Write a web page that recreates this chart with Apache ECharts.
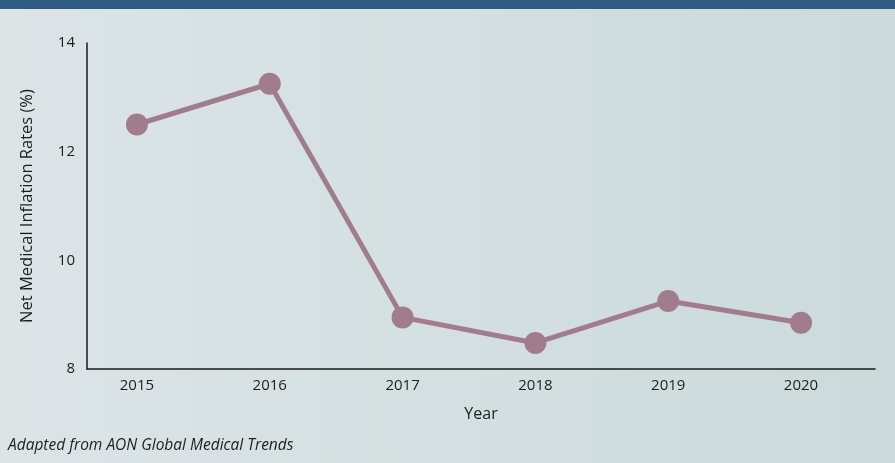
<!DOCTYPE html>
<html>
<head>
<meta charset="utf-8">
<style>
  html, body { margin: 0; padding: 0; }
  #chart { width: 895px; height: 463px; }
</style>
<script src="https://cdn.jsdelivr.net/npm/echarts@6/dist/echarts.min.js"></script>
</head>
<body>
<div id="chart"></div>
<script>
// data
const years = [2015, 2016, 2017, 2018, 2019, 2020];
const rates = [12.5, 13.25, 8.95, 8.48, 9.25, 8.85];
const yTicks = [8, 10, 12, 14];

const chart = echarts.init(document.getElementById('chart'));

const option = {
    backgroundColor: {
        type: 'linear',
        x: 0, y: 0, x2: 1, y2: 0,
        colorStops: [
            { offset: 0, color: '#dce4e6' },
            { offset: 1, color: '#cbdada' },
        ],
    },
    textStyle: { fontFamily: 'Open Sans' },
    title: {
        text: 'Adapted from AON Global Medical Trends',
        left: 3,
        top: 433,
        textStyle: {
            color: '#1e1e1e',
            fontSize: 15.5,
            fontStyle: 'italic',
            fontWeight: 'normal',
            fontFamily: 'Open Sans',
        },
    },
    graphic: [{
        type: 'rect',
        left: 0,
        top: 0,
        shape: { width: 895, height: 9 },
        style: { fill: '#2f5a86' },
    }],
    grid: {
        left: 87,
        right: 20,
        top: 43,
        bottom: 94,
    },
    xAxis: {
        type: 'value',
        min: 2014.624,
        max: 2020.557,
        name: 'Year',
        nameLocation: 'middle',
        nameGap: 37,
        nameTextStyle: { color: '#1e1e1e', fontSize: 16 },
        axisLine: { show: true, lineStyle: { color: '#1a1a1a', width: 1.5 } },
        axisTick: { show: false },
        splitLine: { show: false },
        axisLabel: {
            customValues: years,
            color: '#1e1e1e',
            fontSize: 15,
            margin: 9,
            formatter: (v) => String(v),
        },
    },
    yAxis: {
        type: 'value',
        min: 8,
        max: 14,
        interval: 2,
        name: 'Net Medical Inflation Rates (%)',
        nameLocation: 'middle',
        nameGap: 51,
        nameTextStyle: { color: '#1e1e1e', fontSize: 16.5 },
        axisLine: { show: true, lineStyle: { color: '#1a1a1a', width: 1.5 } },
        axisTick: { show: false },
        splitLine: { show: false },
        axisLabel: {
            customValues: yTicks,
            color: '#1e1e1e',
            fontSize: 15,
            margin: 12,
        },
    },
    series: [{
        type: 'line',
        data: years.map((y, i) => [y, rates[i]]),
        symbol: 'circle',
        symbolSize: 22,
        lineStyle: { color: '#a07c8c', width: 5 },
        itemStyle: { color: '#a07c8c' },
        z: 3,
    }],
};

chart.setOption(option);
</script>
</body>
</html>
